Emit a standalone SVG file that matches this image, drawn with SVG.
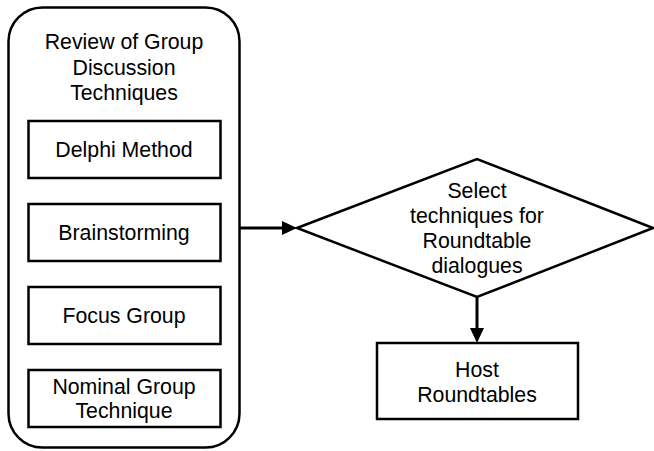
<svg xmlns="http://www.w3.org/2000/svg" width="654" height="451" viewBox="0 0 654 451">
<defs>
<style>
text{font-family:"Liberation Sans",Arial,sans-serif;font-size:21.3px;fill:#000;text-anchor:middle}
.box{fill:#fff;stroke:#000;stroke-width:2.5}
.edge{stroke:#000;stroke-width:3;fill:none}
</style>
</defs>
<rect width="654" height="451" fill="#fff"/>
<g id="review">
<rect class="box" x="8.5" y="7.5" width="231" height="440" rx="34" ry="34"/>
<text x="124" y="49">Review of Group</text>
<text x="124" y="75">Discussion</text>
<text x="124" y="100">Techniques</text>
</g>
<g id="delphi">
<rect class="box" x="28.5" y="121" width="192" height="57"/>
<text x="124" y="157">Delphi Method</text>
</g>
<g id="brainstorming">
<rect class="box" x="28.5" y="204" width="192" height="57"/>
<text x="124" y="240">Brainstorming</text>
</g>
<g id="focus">
<rect class="box" x="28.5" y="287" width="192" height="57"/>
<text x="124" y="323">Focus Group</text>
</g>
<g id="nominal">
<rect class="box" x="28.5" y="370" width="192" height="57"/>
<text x="124" y="394">Nominal Group</text>
<text x="124" y="418">Technique</text>
</g>
<g id="select">
<polygon class="box" points="297,228 477,159 653,228 477,297"/>
<text x="477" y="198">Select</text>
<text x="477" y="223">techniques for</text>
<text x="477" y="248">Roundtable</text>
<text x="477" y="273">dialogues</text>
</g>
<g id="host">
<rect class="box" x="377" y="343" width="201" height="76"/>
<text x="477" y="377">Host</text>
<text x="477" y="402">Roundtables</text>
</g>
<g id="connectors">
<line class="edge" x1="240" y1="228" x2="282" y2="228"/>
<path d="M282,221 L297,228 L282,235 Z" fill="#000"/>
<line class="edge" x1="477" y1="297" x2="477" y2="328"/>
<path d="M470,328 L477,343 L484,328 Z" fill="#000"/>
</g>
</svg>
